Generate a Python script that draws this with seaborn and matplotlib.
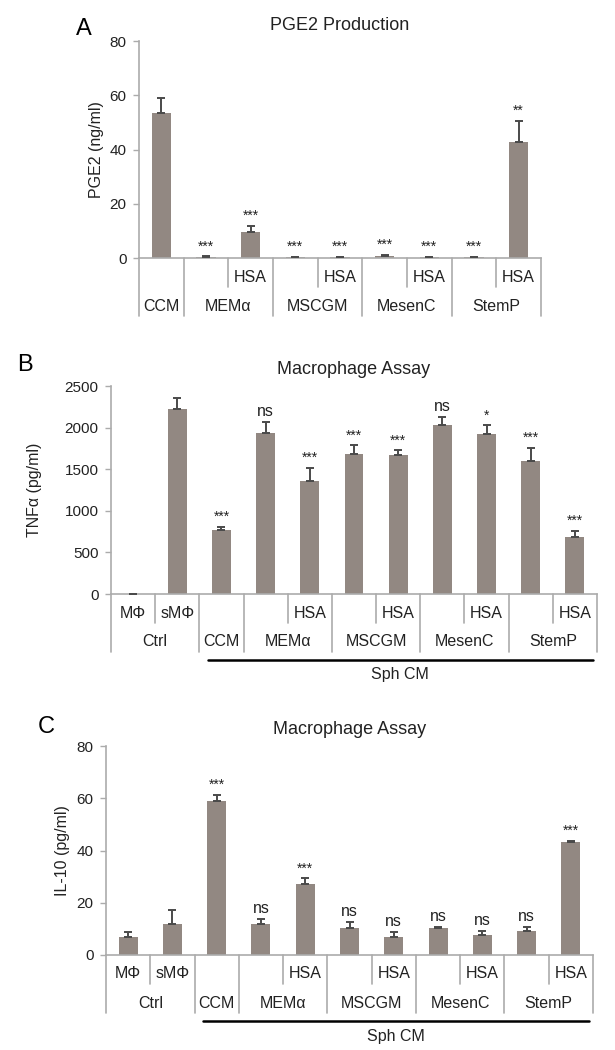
import numpy as np
import pandas as pd
import matplotlib
matplotlib.use("Agg")
import matplotlib.pyplot as plt
import matplotlib.transforms as mtransforms
import seaborn as sns

# ---------------- data ----------------
# Panel A : PGE2 production
a_conds = ["CCM", "MEMα", "MEMα HSA", "MSCGM", "MSCGM HSA", "MesenC", "MesenC HSA", "StemP", "StemP HSA"]
a_vals = [53.3, 0.5, 9.7, 0.4, 0.4, 0.8, 0.4, 0.4, 42.9]
a_errs = [5.8, 0.2, 2.2, 0.1, 0.1, 0.3, 0.1, 0.1, 7.6]
a_sig = ["", "***", "***", "***", "***", "***", "***", "***", "**"]
a_row1 = ["", "", "HSA", "", "HSA", "", "HSA", "", "HSA"]
a_groups = ["CCM", "MEMα", "MSCGM", "MesenC", "StemP"]
a_sizes = [1, 2, 2, 2, 2]
a_ticks = [0, 20, 40, 60, 80]

# Panel B : TNFa
b_conds = ["MΦ", "sMΦ", "CCM", "MEMα", "MEMα HSA", "MSCGM", "MSCGM HSA",
           "MesenC", "MesenC HSA", "StemP", "StemP HSA"]
b_vals = [5, 2225, 775, 1940, 1355, 1685, 1675, 2030, 1920, 1595, 690]
b_errs = [0, 130, 35, 125, 165, 105, 50, 95, 110, 165, 70]
b_sig = ["", "", "***", "ns", "***", "***", "***", "ns", "*", "***", "***"]
bc_row1 = ["MΦ", "sMΦ", "", "", "HSA", "", "HSA", "", "HSA", "", "HSA"]
bc_groups = ["Ctrl", "CCM", "MEMα", "MSCGM", "MesenC", "StemP"]
bc_sizes = [2, 1, 2, 2, 2, 2]
b_ticks = [0, 500, 1000, 1500, 2000, 2500]

# Panel C : IL-10
c_conds = b_conds
c_vals = [6.7, 12.0, 59.0, 12.0, 27.0, 10.3, 6.7, 10.2, 7.7, 9.2, 43.3]
c_errs = [2.0, 5.2, 2.4, 1.7, 2.4, 2.3, 2.0, 0.5, 1.4, 1.5, 0.4]
c_sig = ["", "", "***", "ns", "***", "ns", "ns", "ns", "ns", "ns", "***"]
c_ticks = [0, 20, 40, 60, 80]

# ---------------- style ----------------
sns.set_style("white")
plt.rcParams["font.family"] = ["Liberation Sans", "DejaVu Sans"]

BAR = "#928882"
ERR = "#4a4a4a"
LINE = "#ababab"
TXT = "#222222"

W, H = 615, 1050
fig = plt.figure(figsize=(W / 100, H / 100), dpi=100)


def panel(rect, conds, vals, errs, sig, row1, groups, sizes, yticks,
          ylabel, ylabel_dx, title, letter, letter_xy, sph=False):
    l, t, r, b = rect
    ax = fig.add_axes([l / W, 1 - b / H, (r - l) / W, (b - t) / H])
    hpx = b - t
    n = len(conds)
    df = pd.DataFrame({"cond": conds, "val": vals})
    sns.barplot(data=df, x="cond", y="val", order=conds, color=BAR,
                saturation=1, width=0.43, errorbar=None, linewidth=0, ax=ax)
    xs = [p.get_x() + p.get_width() / 2 for p in ax.patches]
    ax.errorbar(xs, vals, yerr=[np.zeros(n), errs], fmt="none", ecolor=ERR,
                elinewidth=1.4, capsize=3, capthick=1.4, zorder=3)
    for x, v, e, s in zip(xs, vals, errs, sig):
        if s:
            ax.annotate(s, xy=(x, v + e), xytext=(0, 2), textcoords="offset points",
                        ha="center", va="bottom", color=TXT,
                        fontsize=10 if "*" in s else 11.5)

    ax.set_ylim(yticks[0], yticks[-1])
    ax.set_yticks(yticks)
    ax.set_xticks([])
    ax.set_xlabel("")
    ax.set_ylabel(ylabel, fontsize=11.5, color=TXT, va="center")
    ax.yaxis.set_label_coords(-ylabel_dx / (r - l), 0.5)
    for s in ["top", "right"]:
        ax.spines[s].set_visible(False)
    for s in ["left", "bottom"]:
        ax.spines[s].set_color(LINE)
        ax.spines[s].set_linewidth(1.2)
    ax.tick_params(axis="y", left=True, length=4, width=1.0, color=LINE,
                   labelsize=11, labelcolor=TXT, pad=5)

    trans = mtransforms.blended_transform_factory(ax.transData, ax.transAxes)
    d1, d2 = 29 / hpx, 58 / hpx
    # separators
    edges = np.cumsum([0] + sizes)
    for i in range(n + 1):
        xb = i - 0.5
        depth = d2 if i in edges else d1
        ax.plot([xb, xb], [0, -depth], transform=trans, clip_on=False,
                color=LINE, lw=1.2)
    # row 1 labels
    for x, s in zip(xs, row1):
        if s:
            ax.text(x, -19 / hpx, s, transform=trans, ha="center", va="center",
                    fontsize=11.5, color=TXT)
    # row 2 group labels
    for g, s0, s1 in zip(groups, edges[:-1], edges[1:]):
        ax.text((s0 + s1 - 1) / 2, -48 / hpx, g, transform=trans, ha="center",
                va="center", fontsize=11.5, color=TXT)
    if sph:
        start = conds.index("CCM") - 0.3
        end = n - 1 + 0.4
        ax.plot([start, end], [-66 / hpx, -66 / hpx], transform=trans,
                clip_on=False, color="black", lw=1.8)
        ax.text((start + end) / 2, -81 / hpx, "Sph CM", transform=trans,
                ha="center", va="center", fontsize=11.5, color=TXT)
    ax.set_xlim(-0.5, n - 0.5)
    ax.text(0.5, 1 + 16 / hpx, title, transform=ax.transAxes, ha="center",
            va="center", fontsize=13, color=TXT)
    fig.text(letter_xy[0] / W, 1 - letter_xy[1] / H, letter, ha="center",
             va="center", fontsize=17, color="black")
    return ax


panel((139, 41, 541, 258), a_conds, a_vals, a_errs, a_sig, a_row1, a_groups,
      a_sizes, a_ticks, "PGE2 (ng/ml)", 43, "PGE2 Production", "A", (84, 29))
panel((111, 386, 597, 594), b_conds, b_vals, b_errs, b_sig, bc_row1, bc_groups,
      bc_sizes, b_ticks, "TNFα (pg/ml)", 77, "Macrophage Assay", "B", (25, 365),
      sph=True)
panel((106, 746, 593, 955), c_conds, c_vals, c_errs, c_sig, bc_row1, bc_groups,
      bc_sizes, c_ticks, "IL-10 (pg/ml)", 43, "Macrophage Assay", "C", (46, 727),
      sph=True)

fig.savefig("out.png", dpi=100, facecolor="white")
